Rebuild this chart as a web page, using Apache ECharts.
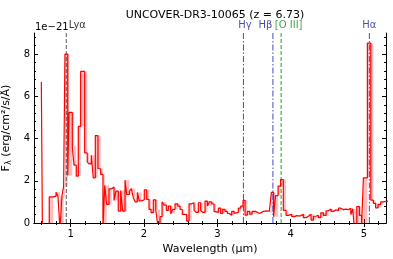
<!DOCTYPE html>
<html><head><meta charset="utf-8">
<script src="https://cdn.jsdelivr.net/npm/echarts@6/dist/echarts.min.js"></script>
<style>html,body{margin:0;padding:0;background:#fff}#c{width:393px;height:259px}</style>
</head><body><div id="c"></div>
<script>
// Bin left edges (µm); last value is the right edge of the last bin
const binEdges = [0.600,0.615,0.708,0.763,0.800,0.827,0.854,0.881,0.904,0.922,0.960,0.978,
1.022,1.045,1.076,1.104,1.136,1.191,1.226,1.250,1.281,1.308,1.336,1.372,1.409,1.440,1.464,1.491,
1.523,1.559,1.591,1.618,1.649,1.682,1.709,1.741,1.764,1.800,1.827,1.854,1.881,1.909,1.936,1.969,
2.004,2.037,2.068,2.096,2.127,2.160,2.187,2.218,2.246,2.273,2.304,2.332,2.364,2.391,2.423,2.460,
2.491,2.522,2.550,2.582,2.614,2.650,2.682,2.709,2.741,2.773,2.800,2.832,2.864,2.891,2.924,2.955,
2.982,3.014,3.046,3.074,3.105,3.136,3.164,3.196,3.228,3.255,3.286,3.319,3.350,3.378,3.409,3.442,
3.473,3.524,3.560,3.592,3.624,3.655,3.682,3.710,3.737,3.767,3.794,3.828,3.862,3.900,3.937,3.969,
4.015,4.050,4.083,4.128,4.173,4.210,4.242,4.278,4.310,4.347,4.378,4.411,4.446,4.483,4.514,4.551,
4.583,4.619,4.651,4.683,4.719,4.751,4.787,4.820,4.847,4.869,4.902,4.937,4.965,4.992,5.046,5.093,
5.128,5.158,5.192,5.227,5.260,5.350];
// Flux density per bin (units of 1e-21 erg/cm^2/s/Å)
const flux = [6.68,-0.5,1.24,1.27,1.46,1.27,-0.3,1.27,1.73,8.00,2.25,5.24,
3.64,2.74,2.22,4.58,7.18,3.32,2.90,2.80,3.21,2.14,4.14,2.57,2.30,-0.3,1.78,0.88,
1.62,1.70,1.07,1.51,0.56,1.54,0.56,2.03,1.35,1.50,1.63,1.20,1.00,1.45,1.05,1.10,
1.57,1.12,0.65,0.49,1.10,0.65,-0.1,0.30,1.00,0.85,0.60,0.80,0.44,0.65,0.91,0.80,
0.64,0.41,0.40,0.09,0.91,0.96,0.61,0.50,0.96,0.60,0.50,1.04,0.80,1.00,0.90,0.55,
0.50,0.70,0.45,0.65,0.55,0.45,0.37,0.55,0.45,0.50,0.70,0.80,1.07,0.37,0.55,0.42,
0.55,0.47,0.47,0.55,0.57,0.55,0.56,0.50,1.45,0.30,1.30,1.75,2.06,0.60,0.36,0.41,
0.30,0.35,0.33,0.41,0.25,0.32,0.41,0.14,0.32,0.36,0.25,0.48,0.36,0.58,0.66,0.55,
0.63,0.58,0.70,0.63,0.66,0.63,0.70,0.40,0.66,-0.3,0.78,0.36,-0.3,2.14,8.52,1.08,
0.93,0.72,0.88,1.00,1.05];
const lineNames = ['Lyα','Hγ','Hβ','[O III]','Hα'];
const lineWaves = [0.940, 3.356, 3.758, 3.870, 5.073];
const xTicks = [1,2,3,4,5];
const yTicks = [0,2,4,6,8];
const xMinorTicks = [0.6,0.8,1.2,1.4,1.6,1.8,2.2,2.4,2.6,2.8,3.2,3.4,3.6,3.8,4.2,4.4,4.6,4.8,5.2];
const yMinorTicks = [0.4,0.8,1.2,1.6,2.4,2.8,3.2,3.6,4.4,4.8,5.2,5.6,6.4,6.8,7.2,7.6,8.4,8.8];

const FONT = 'DejaVu Sans';
const lineColors = ['#5a5a5a', '#4848cc', '#4848cc', '#2a9a2a', '#4848cc'];
const lineDashes = [[4,2], [6,2,1.5,2], [6,2,1.5,2], [4,2], [6,2,1.5,2]];
const labelStyles = [
  {color:'#000000', align:'left', offset:[2.5,0]},
  {color:'#1c1c96', align:'center', offset:[1.5,0]},
  {color:'#1c1c96', align:'right', offset:[-0.5,0]},
  {color:'#1f8a1f', align:'center', offset:[7.5,0]},
  {color:'#1c1c96', align:'center', offset:[0,0]}
];

const stepData = binEdges.map((e,i)=>[e, flux[Math.min(i, flux.length-1)]]);
const fillData = [];
for (let i=2;i<flux.length;i++){
  fillData.push([binEdges[i], binEdges[i+1], Math.min(flux[i-1],flux[i]), Math.max(flux[i-1],flux[i])]);
}

function xAx(pos, ticks, len, main){
  return {type:'value', min:0.5, max:5.3, position:pos,
    axisLine:{show:main, lineStyle:{color:'#000', width:1}},
    axisTick:{show:true, inside:true, length:len, customValues:ticks, lineStyle:{color:'#000', width:1}},
    axisLabel:{show: main && pos==='bottom', customValues:xTicks, color:'#000', fontSize:10, fontFamily:FONT, margin:6},
    splitLine:{show:false},
    name: (main && pos==='bottom') ? 'Wavelength (µm)' : '',
    nameLocation:'middle', nameGap:18,
    nameTextStyle:{color:'#000', fontSize:11, fontFamily:FONT}
  };
}
function yAx(pos, ticks, len, main){
  return {type:'value', min:0, max:9, position:pos,
    axisLine:{show:main, lineStyle:{color:'#000', width:1}},
    axisTick:{show:true, inside:true, length:len, customValues:ticks, lineStyle:{color:'#000', width:1}},
    axisLabel:{show: main && pos==='left', customValues:yTicks, color:'#000', fontSize:10, fontFamily:FONT, margin:4},
    splitLine:{show:false},
    name: (main && pos==='left') ? 'F{sub|λ} (erg/cm²/s/Å)' : '',
    nameLocation:'middle', nameGap:16, nameRotate:90,
    nameTextStyle:{color:'#000', fontSize:11, fontFamily:FONT,
      rich:{sub:{fontSize:8, fontFamily:FONT, color:'#000', padding:[5,0,0,0]}}}
  };
}

const lineSeries = lineWaves.map((w,i)=>({
  type:'line', xAxisIndex:0, yAxisIndex:0, name:lineNames[i], silent:true, z:2,
  data:[[w,0],[w,9]], showSymbol:false, symbol:'none', clip:true,
  lineStyle:{color:lineColors[i], type:lineDashes[i], width:1}
}));

const chart = echarts.init(document.getElementById('c'), null, {renderer:'canvas'});
chart.setOption({
  animation:false,
  backgroundColor:'#ffffff',
  title:{text:'UNCOVER-DR3-10065 (z = 6.73)', left:210, top:5, textAlign:'center',
    textStyle:{fontSize:11, fontWeight:'normal', color:'#000', fontFamily:FONT}},
  grid:{left:34, right:7, top:33, bottom:36, containLabel:false, outerBoundsMode:'none'},
  xAxis:[xAx('bottom', xTicks, 4, true), xAx('bottom', xMinorTicks, 2, false),
         xAx('top', xTicks, 4, true), xAx('top', xMinorTicks, 2, false)],
  yAxis:[yAx('left', yTicks, 4, true), yAx('left', yMinorTicks, 2, false),
         yAx('right', yTicks, 4, true), yAx('right', yMinorTicks, 2, false)],
  graphic:[{type:'text', style:{text:'1e−21', x:35, y:27, verticalAlign:'middle', fontSize:10, fontFamily:FONT, fill:'#000'}}],
  series:[
    {type:'custom', xAxisIndex:0, yAxisIndex:0, clip:true, silent:true,
      data:fillData, encode:{x:[0,1], y:[2,3]},
      renderItem:function(params, api){
        const x0=api.value(0), x1=api.value(1), hi=api.value(3);
        const lo=Math.max(api.value(2),0);
        if (hi<=0) return null;
        const p0=api.coord([x0,hi]), p1=api.coord([x1,lo]);
        return {type:'rect', shape:{x:p0[0], y:p0[1], width:p1[0]-p0[0], height:p1[1]-p0[1]},
          style:{fill:'rgba(255,70,70,0.35)'}};
      }, z:1},
    {type:'line', xAxisIndex:0, yAxisIndex:0, data:stepData, step:'end', showSymbol:false, symbol:'none',
      clip:true, lineStyle:{color:'#ff0000', width:1.2}, z:3, silent:true},
    ...lineSeries,
    {type:'scatter', xAxisIndex:0, yAxisIndex:0, symbolSize:0, clip:false, silent:true, z:4,
      data: lineWaves.map((w,i)=>({value:[w,9], name:lineNames[i],
        label:{show:true, position:'top', distance:3, formatter:lineNames[i], fontSize:10, fontFamily:FONT,
          color:labelStyles[i].color, align:labelStyles[i].align, offset:labelStyles[i].offset}}))
    }
  ]
});
</script></body></html>
